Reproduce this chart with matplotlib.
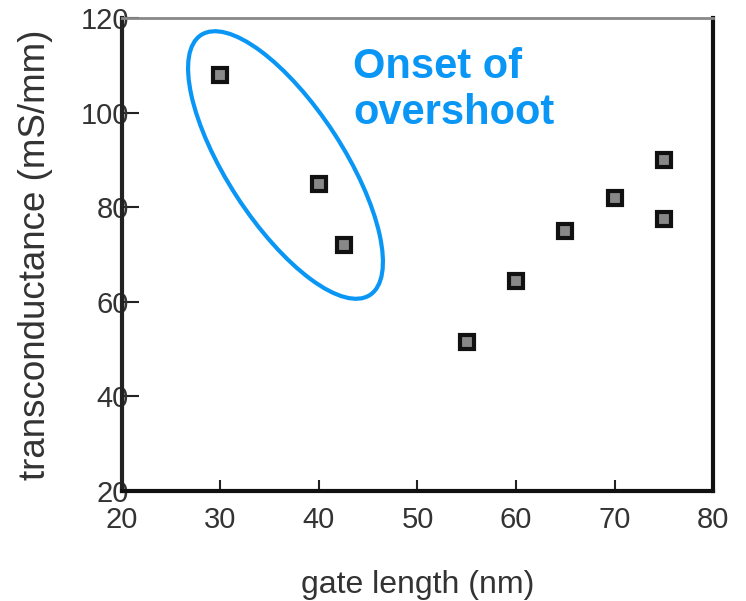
import matplotlib
matplotlib.use("Agg")
import matplotlib.pyplot as plt
from matplotlib.patches import Ellipse

# Data
gate_length = [30, 40, 42.5, 55, 60, 65, 70, 75, 75]
transconductance = [108, 85, 72, 51.5, 64.5, 75, 82, 90, 77.5]
x_ticks = [20, 30, 40, 50, 60, 70, 80]
y_ticks = [20, 40, 60, 80, 100, 120]
annotation = "Onset of\novershoot"

blue = "#0A96F5"
gray = "#333333"

plt.rcParams['font.family'] = ['Liberation Sans', 'DejaVu Sans']

fig = plt.figure(figsize=(7.46, 6.01), dpi=100)
ax = fig.add_axes([0.1635, 0.183, 0.7923, 0.787])

ax.plot(gate_length, transconductance, linestyle='none', marker='s',
        markersize=9.5, markerfacecolor='#888888', markeredgecolor='#111111',
        markeredgewidth=3)

ax.set_xlim(20, 80)
ax.set_ylim(20, 120)
ax.set_xticks(x_ticks)
ax.set_yticks(y_ticks)
ax.set_xticklabels([str(v) for v in x_ticks])
ax.set_yticklabels([str(v) for v in y_ticks])

ax.tick_params(axis='x', direction='in', length=8, width=1.5, color='#222222',
               labelsize=21, labelcolor=gray, pad=11, top=False)
ax.tick_params(axis='y', direction='in', length=12, width=1.5, color='#222222',
               labelsize=21, labelcolor=gray, pad=-5, right=False)

for side, lw, col in [('left', 3, '#222222'), ('bottom', 3, '#111111'),
                      ('right', 3, '#111111'), ('top', 2, '#888888')]:
    ax.spines[side].set_linewidth(lw)
    ax.spines[side].set_color(col)

ax.set_xlabel("gate length (nm)", fontsize=23, color=gray, labelpad=26)
ax.set_ylabel("transconductance (mS/mm)", fontsize=26.5, color=gray, labelpad=20)

# Ellipse drawn in inch coordinates so that it stays round-shaped
ell = Ellipse((2.855, 6.01 - 1.65), width=3.10, height=1.16, angle=-57,
              transform=fig.dpi_scale_trans, fill=False, edgecolor=blue,
              linewidth=3)
fig.add_artist(ell)

fig.text(353 / 746, 1 - 47 / 601, annotation, color=blue, fontsize=30,
         fontweight='bold', ha='left', va='top', linespacing=1.2)

fig.savefig("out.png", dpi=100)
